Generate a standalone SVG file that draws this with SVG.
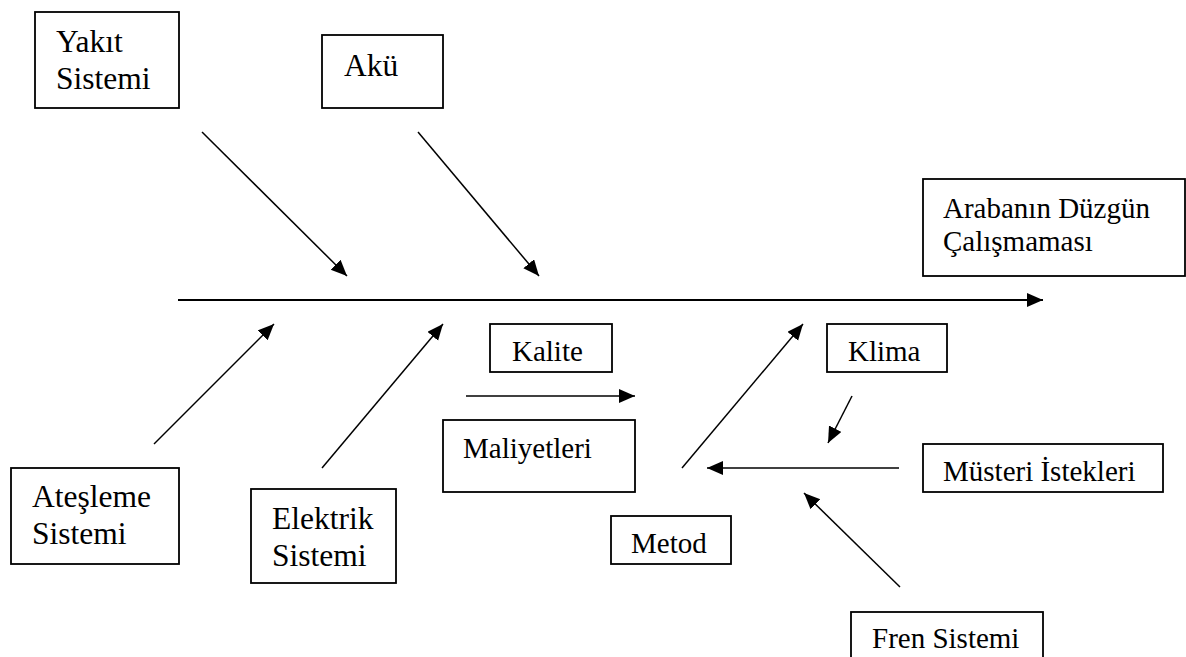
<svg xmlns="http://www.w3.org/2000/svg" width="1186" height="657" viewBox="0 0 1186 657">
  <style>
    .box { fill: #fff; stroke: #000; stroke-width: 1.8; }
    text { font-family: "Liberation Serif", Tinos, "Times New Roman", "DejaVu Serif", serif; fill: #000; }
    .big { font-size: 31.5px; }
    .sm { font-size: 29px; }
    .arw { stroke: #000; stroke-width: 1.5; fill: none; marker-end: url(#head); }
    .spine { stroke: #000; stroke-width: 2; fill: none; marker-end: url(#head); }
  </style>
  <defs>
    <marker id="head" markerUnits="userSpaceOnUse" markerWidth="17" markerHeight="15" refX="16" refY="7" orient="auto">
      <path d="M0,0 L16,7 L0,14 z" fill="#000"/>
    </marker>
  </defs>
  <rect width="1186" height="657" fill="#fff"/>

  <!-- connectors -->
  <g id="connectors">
    <line class="spine" x1="178" y1="300" x2="1043" y2="300"/>
    <line class="arw" x1="202" y1="132" x2="347" y2="276"/>
    <line class="arw" x1="418" y1="132" x2="539" y2="276"/>
    <line class="arw" x1="154" y1="444" x2="274" y2="324"/>
    <line class="arw" x1="322" y1="468" x2="443" y2="324"/>
    <line class="arw" x1="466" y1="396" x2="635" y2="396"/>
    <line class="arw" x1="682" y1="468" x2="803" y2="324"/>
    <line class="arw" x1="852" y1="396" x2="828" y2="443"/>
    <line class="arw" x1="899" y1="468" x2="707" y2="468"/>
    <line class="arw" x1="900" y1="587" x2="804" y2="493"/>
  </g>

  <!-- nodes -->
  <g id="yakit">
    <rect class="box" x="35" y="12" width="144" height="96"/>
    <text class="big" x="56" y="52" font-family="Liberation Serif, serif">Yakıt</text>
    <text class="big" x="56" y="89" font-family="Liberation Serif, serif">Sistemi</text>
  </g>
  <g id="aku">
    <rect class="box" x="322" y="35" width="121" height="73"/>
    <text class="big" x="344" y="76" font-family="Liberation Serif, serif">Akü</text>
  </g>
  <g id="sonuc">
    <rect class="box" x="923" y="179" width="262" height="97"/>
    <text class="sm" x="943" y="218" font-family="Liberation Serif, serif">Arabanın Düzgün</text>
    <text class="sm" x="943" y="251" font-family="Liberation Serif, serif">Çalışmaması</text>
  </g>
  <g id="kalite">
    <rect class="box" x="490" y="324" width="122" height="48"/>
    <text class="sm" x="512" y="361" font-family="Liberation Serif, serif">Kalite</text>
  </g>
  <g id="maliyetleri">
    <rect class="box" x="443" y="420" width="192" height="72"/>
    <text class="sm" x="463" y="458" font-family="Liberation Serif, serif">Maliyetleri</text>
  </g>
  <g id="klima">
    <rect class="box" x="827" y="324" width="120" height="48"/>
    <text class="sm" x="848" y="361" font-family="Liberation Serif, serif">Klima</text>
  </g>
  <g id="musteri">
    <rect class="box" x="923" y="444" width="240" height="48"/>
    <text class="sm" x="943" y="481" font-family="Liberation Serif, serif">Müsteri İstekleri</text>
  </g>
  <g id="metod">
    <rect class="box" x="611" y="516" width="120" height="48"/>
    <text class="sm" x="631" y="553" font-family="Liberation Serif, serif">Metod</text>
  </g>
  <g id="fren">
    <rect class="box" x="851" y="612" width="192" height="60"/>
    <text class="sm" x="872" y="648" font-family="Liberation Serif, serif">Fren Sistemi</text>
  </g>
  <g id="atesleme">
    <rect class="box" x="11" y="468" width="168" height="96"/>
    <text class="big" x="32" y="507" font-family="Liberation Serif, serif">Ateşleme</text>
    <text class="big" x="32" y="544" font-family="Liberation Serif, serif">Sistemi</text>
  </g>
  <g id="elektrik">
    <rect class="box" x="251" y="489" width="145" height="94"/>
    <text class="big" x="272" y="529" font-family="Liberation Serif, serif">Elektrik</text>
    <text class="big" x="272" y="566" font-family="Liberation Serif, serif">Sistemi</text>
  </g>
</svg>
